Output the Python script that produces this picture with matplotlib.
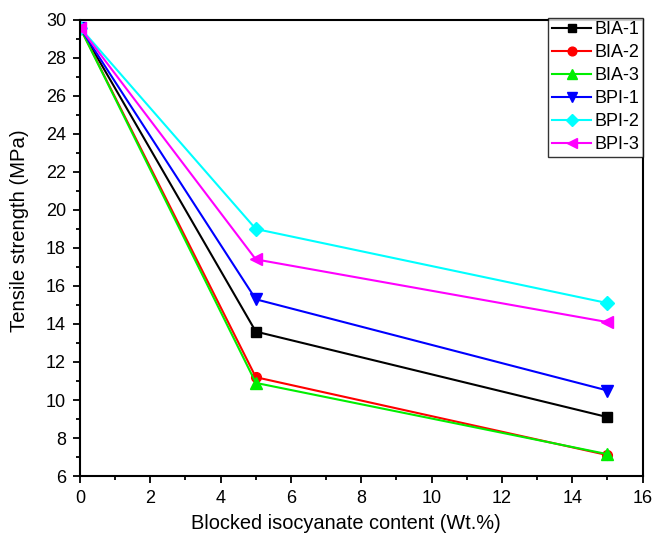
import matplotlib
matplotlib.use("Agg")
import matplotlib.pyplot as plt
from matplotlib.ticker import MultipleLocator

plt.rcParams['font.family'] = ['Liberation Sans', 'DejaVu Sans']

x = [0, 5, 15]
series_names = ["BIA-1", "BIA-2", "BIA-3", "BPI-1", "BPI-2", "BPI-3"]
bia1 = [29.6, 13.6, 9.1]
bia2 = [29.6, 11.2, 7.1]
bia3 = [29.6, 10.9, 7.15]
bpi1 = [29.6, 15.3, 10.5]
bpi2 = [29.6, 19.0, 15.1]
bpi3 = [29.6, 17.4, 14.1]
values = [bia1, bia2, bia3, bpi1, bpi2, bpi3]
colors = ["#000000", "#ff0000", "#00ee00", "#0000ff", "#00ffff", "#ff00ff"]
markers = ["s", "o", "^", "v", "D", "<"]
msizes = [7, 7, 8, 8, 7, 8]

fig = plt.figure(figsize=(6.58, 5.34), dpi=100)
ax = fig.add_axes([0.1216, 0.1086, 0.855, 0.854])

for name, vals, c, m, ms in zip(series_names, values, colors, markers, msizes):
    ax.plot(x, vals, color=c, marker=m, markersize=ms, lw=1.5, label=name)

ax.set_xlim(0, 16)
ax.set_ylim(6, 30)
ax.xaxis.set_major_locator(MultipleLocator(2))
ax.xaxis.set_minor_locator(MultipleLocator(1))
ax.yaxis.set_major_locator(MultipleLocator(2))
ax.yaxis.set_minor_locator(MultipleLocator(1))
ax.tick_params(which='major', direction='out', length=5, width=1.3, labelsize=13, pad=5)
ax.tick_params(which='minor', direction='out', length=3, width=1.3)
for s in ax.spines.values():
    s.set_linewidth(1.5)

ax.set_xlabel("Blocked isocyanate content (Wt.%)", fontsize=14.4, labelpad=4)
ax.xaxis.set_label_coords(0.472, -0.083)
ax.set_ylabel("Tensile strength (MPa)", fontsize=14.6, labelpad=9)
ax.yaxis.set_label_coords(-0.091, 0.537)

leg = ax.legend(loc='upper right', fontsize=13, frameon=True, fancybox=False,
                edgecolor='black', borderpad=0.2, labelspacing=0.33,
                handlelength=2.2, handletextpad=0.15, borderaxespad=0.0,
                markerscale=0.9, bbox_to_anchor=(1.0, 1.005))
leg.get_frame().set_linewidth(1.0)

fig.savefig("out.png", dpi=100)
